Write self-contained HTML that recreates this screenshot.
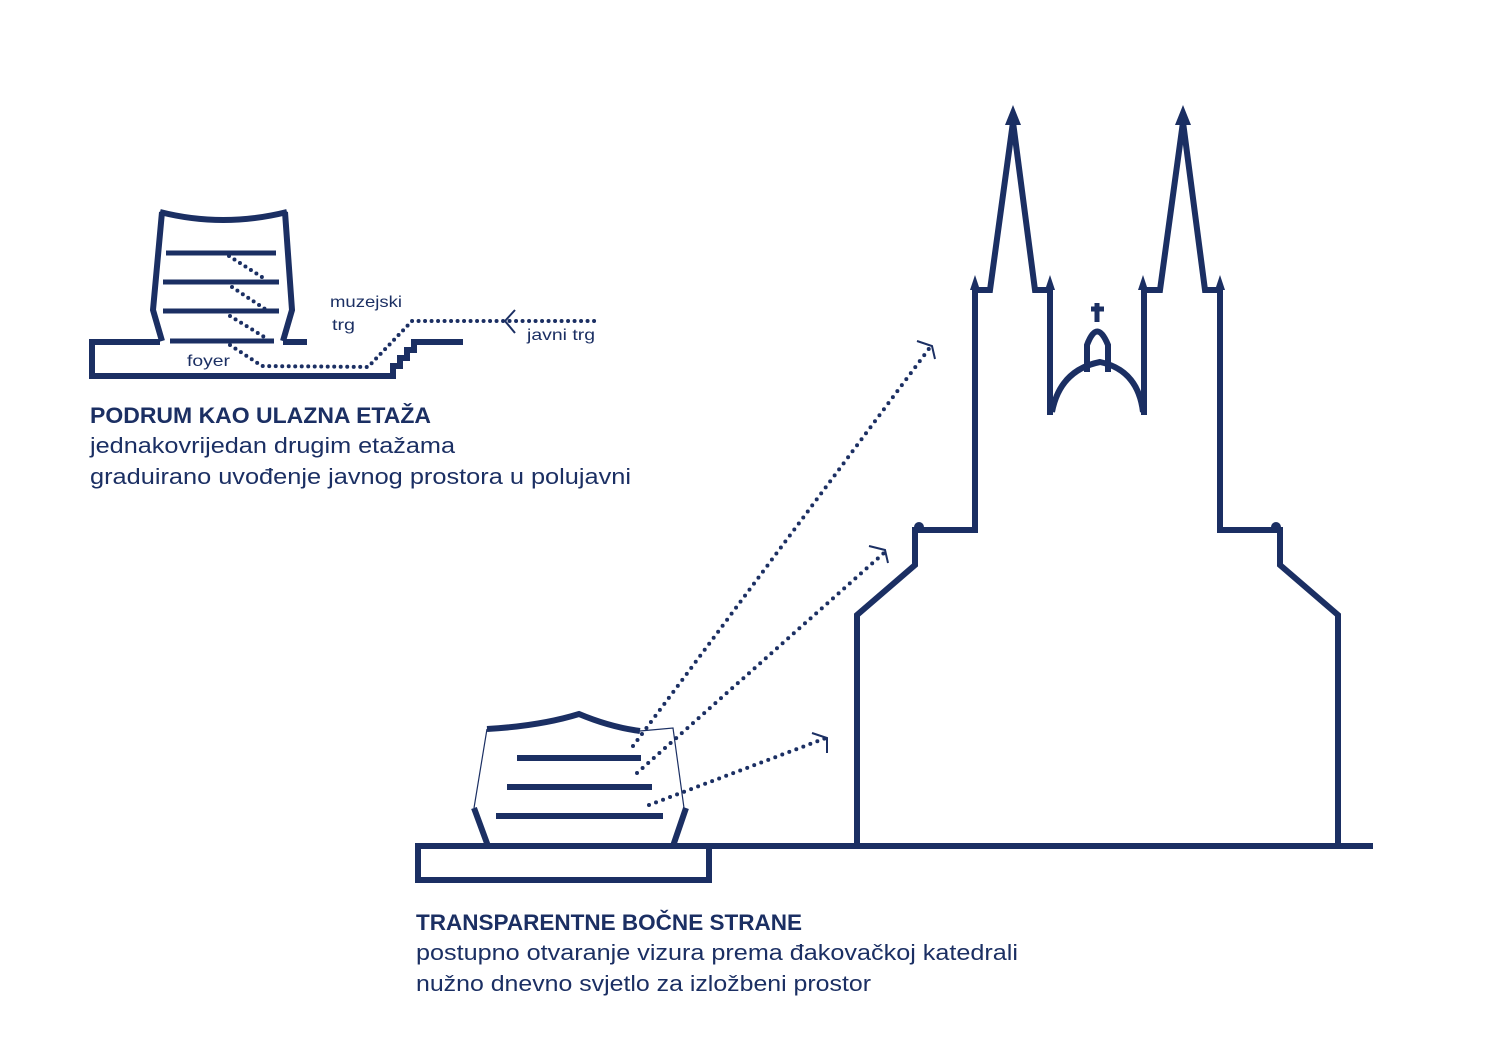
<!DOCTYPE html>
<html><head><meta charset="utf-8"><style>
html,body{margin:0;padding:0;background:#fff}
svg{display:block}
text{font-family:"Liberation Sans",sans-serif;fill:#1b2f63}
</style></head><body>
<svg width="1500" height="1050" viewBox="0 0 1500 1050" xmlns="http://www.w3.org/2000/svg">
<g fill="none" stroke="#1b2f63" stroke-linejoin="miter">
<path d="M160,212 Q223,228 287,212" stroke-width="6"/>
<path d="M162,212 L153,310 L162,341" stroke-width="6"/>
<path d="M285,212 L292,310 L283,341" stroke-width="6"/>
<path d="M160,342 L92,342 L92,376 L393,376 L393,366 L400,366 L400,358 L407,358 L407,350 L414,350 L414,342 L463,342" stroke-width="6"/>
<path d="M283,342 L307,342" stroke-width="6"/>
<g stroke-width="5">
<path d="M166,253 H276"/><path d="M163,282 H279"/><path d="M163,311 H279"/><path d="M170,341 H274"/>
</g>
<g stroke-width="4" stroke-dasharray="0 6.5" stroke-linecap="round">
<path d="M229,256 L265,279"/><path d="M232,287 L265,309"/><path d="M230,316 L266,338"/>
<path d="M230,345 L262,366 L368,367 L412,321 L597,321"/>
</g>
<path d="M515,310 L505,321 L515,333" stroke-width="2"/>
<path d="M487,729 Q540,726 579,714 Q610,727 640,731" stroke-width="6"/>
<path d="M640,731 L673,728 L684,808 M487,729 L474,808" stroke-width="1.2"/>
<path d="M474,808 L488,846 M686,808 L673,846" stroke-width="6"/>
<g stroke-width="6"><path d="M517,758 H641"/><path d="M507,787 H652"/><path d="M496,816 H663"/></g>
<path d="M418,846 H1373 M418,843 V880 H709 V846" stroke-width="6"/>
<g stroke-width="4" stroke-dasharray="0 7.5" stroke-linecap="round">
<path d="M633,746 L931,346"/><path d="M637,773 L885,552"/><path d="M649,805 L826,738"/>
</g>
<g stroke-width="2">
<path d="M917,341 L932,346 L935,359"/><path d="M869,546 L885,550 L888,563"/><path d="M812,733 L827,738 L827,753"/>
</g>
<path d="M857,846 V615 L915,565 V530 H975 V290 H990 L1013,122 L1035,290 H1050 V415" stroke-width="6"/>
<path d="M1338,846 V615 L1280,565 V530 H1220 V290 H1205 L1183,122 L1160,290 H1144 V415" stroke-width="6"/>
<path d="M1052,412 Q1060,370 1100,362 Q1138,370 1143,412" stroke-width="6"/>
<path d="M1087,372 V345 Q1097,318 1108,345 V372" stroke-width="6"/>
<path d="M1097,322 V303 M1091,309 H1104" stroke-width="5"/>
</g>
<g fill="#1b2f63">
<polygon points="1013,105 1005,125 1021,125"/><polygon points="1183,105 1175,125 1191,125"/>
<polygon points="975,275 970,290 980,290"/><polygon points="1050,275 1045,290 1055,290"/>
<polygon points="1143,275 1138,290 1148,290"/><polygon points="1220,275 1215,290 1225,290"/>
<circle cx="919" cy="527" r="5"/><circle cx="1276" cy="527" r="5"/>
</g>
<text x="330" y="307" font-size="16" textLength="72" lengthAdjust="spacingAndGlyphs">muzejski</text>
<text x="332" y="330" font-size="16" textLength="23" lengthAdjust="spacingAndGlyphs">trg</text>
<text x="527" y="340" font-size="16" textLength="68" lengthAdjust="spacingAndGlyphs">javni trg</text>
<text x="187" y="366" font-size="16" textLength="43" lengthAdjust="spacingAndGlyphs">foyer</text>
<text x="90" y="423" font-size="22" font-weight="bold" textLength="341" lengthAdjust="spacingAndGlyphs">PODRUM KAO ULAZNA ETAŽA</text>
<text x="90" y="453" font-size="22" textLength="365" lengthAdjust="spacingAndGlyphs">jednakovrijedan drugim etažama</text>
<text x="90" y="484" font-size="22" textLength="541" lengthAdjust="spacingAndGlyphs">graduirano uvođenje javnog prostora u polujavni</text>
<text x="416" y="930" font-size="22" font-weight="bold" textLength="386" lengthAdjust="spacingAndGlyphs">TRANSPARENTNE BOČNE  STRANE</text>
<text x="416" y="960" font-size="22" textLength="602" lengthAdjust="spacingAndGlyphs">postupno otvaranje vizura prema đakovačkoj katedrali</text>
<text x="416" y="991" font-size="22" textLength="455" lengthAdjust="spacingAndGlyphs">nužno dnevno svjetlo za izložbeni prostor</text>
</svg>
</body></html>
